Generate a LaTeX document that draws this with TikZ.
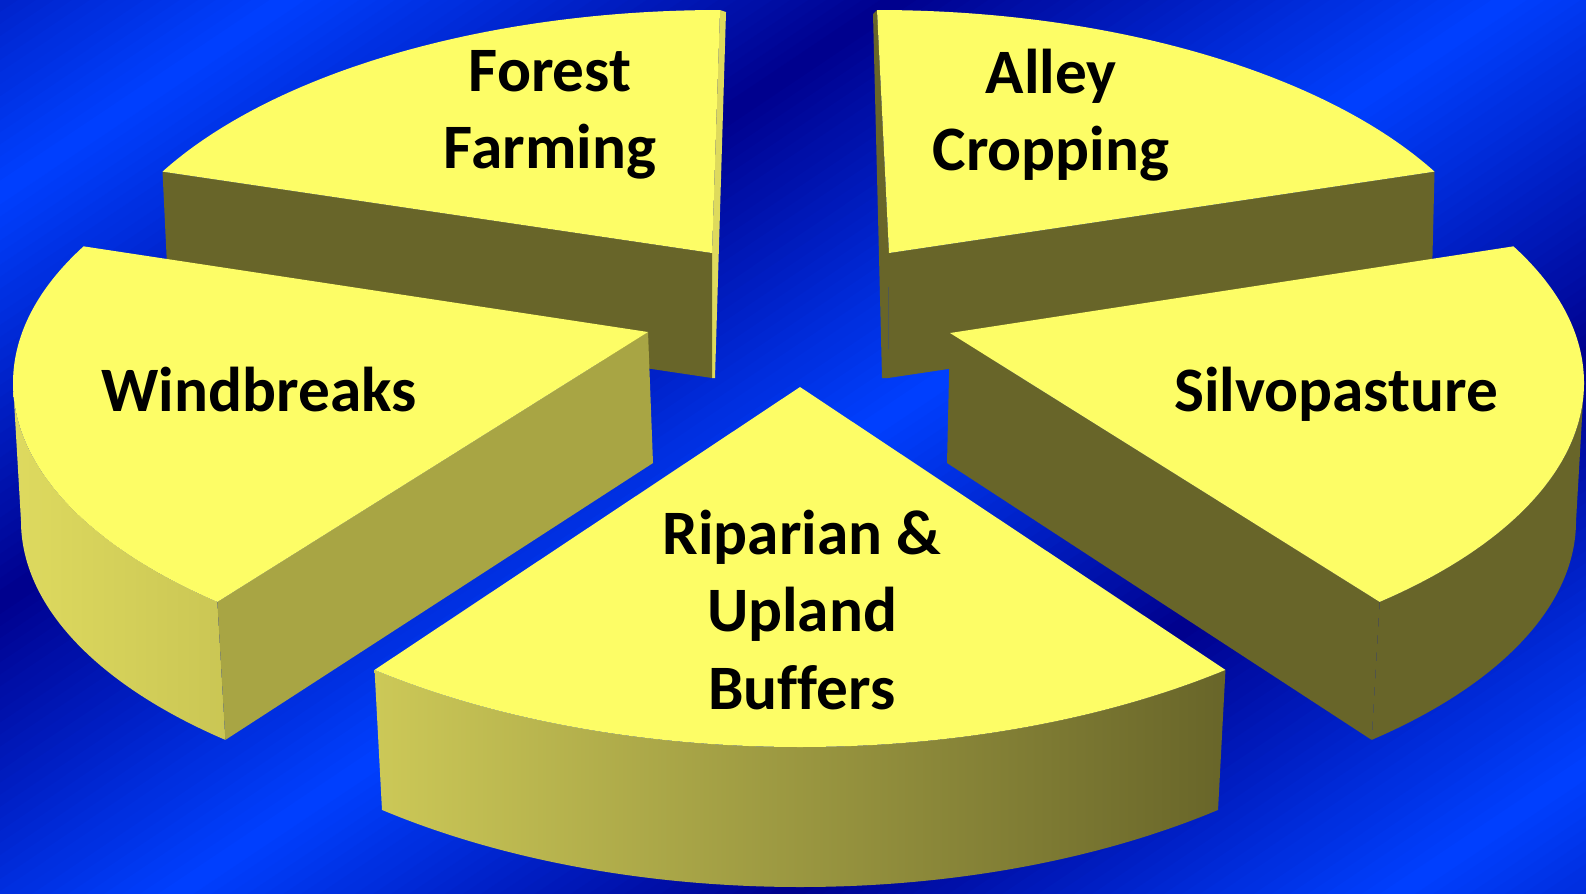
\documentclass[tikz,border=0pt]{standalone}
\usepackage{fontspec}
\setmainfont{Carlito}[Ligatures=NoCommon]
\usetikzlibrary{calc}

\definecolor{bgbright}{RGB}{0,64,255}
\definecolor{bgdark}{RGB}{0,0,140}
\definecolor{pietop}{RGB}{253,253,102}
\definecolor{pieolive}{RGB}{104,101,41}
\definecolor{piemid}{RGB}{168,165,68}
\definecolor{piesliver}{RGB}{222,218,92}
\definecolor{wallleft}{RGB}{222,218,95}
\definecolor{wallright}{RGB}{202,198,84}
\definecolor{wallmiddle}{RGB}{152,148,60}

\tikzstyle{topface} = [fill=pietop]
\tikzstyle{cutface} = [fill=pieolive]
\tikzstyle{slicetext} = [align=center, text=black, inner sep=0pt, font=\fontsize{18}{22}\selectfont\bfseries]

\begin{document}
\begin{tikzpicture}[x=0.01cm, y=-0.01cm]
        \useasboundingbox (0,0) rectangle (1586,893);
        % blue background, diagonal bands
        \begin{scope}
            \clip (0,0) rectangle (1586,893);
            \foreach \s in {-20,-10,...,1660} {
                \pgfmathtruncatemacro\pc{100*(1-abs(mod(\s-155+6800,680)-340)/340)}
                \fill[bgdark!\pc!bgbright] ({0.557*\s-0.831*600},{0.831*\s+0.557*600}) -- ({0.557*\s+0.831*1400},{0.831*\s-0.557*1400}) -- ({0.557*(\s+11)+0.831*1400},{0.831*(\s+11)-0.557*1400}) -- ({0.557*(\s+11)-0.831*600},{0.831*(\s+11)+0.557*600}) -- cycle;
            }
        \end{scope}

        % Forest Farming
        \coordinate (ffA) at (712,253);
        \coordinate (ffC) at (720,320);
        \fill[piesliver] (720,10) -- (726,12) -- (715,378) -- (712,378) -- (ffA) -- cycle;
        \fill[cutface] ($(ffC)+(208.6:635 and 310)$) -- (ffA) -- ++(0,125) -- ($(ffC)+(208.6:635 and 310)+(6,125)$) -- cycle;
        \fill[topface] (ffA) -- ($(ffC)+(208.6:635 and 310)$) arc[start angle=208.6, end angle=270, x radius=635, y radius=310] -- cycle;

        % Alley Cropping
        \coordinate (acA) at (889,253);
        \coordinate (acC) at (877,320);
        \fill[cutface] (877,10) -- (873,14) -- (882,378) -- (888,378) -- (acA) -- cycle;
        \fill[cutface] ($(acC)+(331.4:635 and 310)$) -- (acA) -- ++(-1,125) -- ($(acC)+(331.4:635 and 310)+(-3,125)$) -- cycle;
        \fill[topface] (acA) -- ($(acC)+(270:635 and 310)$) arc[start angle=270, end angle=331.4, x radius=635, y radius=310] -- cycle;

        % Windbreaks
        \coordinate (wbA) at (648,332);
        \coordinate (wbC) at (633,383);
        \shade[left color=wallleft, right color=wallright] ($(wbC)+(180:620 and 295)$) arc[start angle=180, end angle=132.1, x radius=620, y radius=295] -- ++(8,138) arc[start angle=132.1, end angle=180, x radius=620, y radius=295] -- cycle;
        \fill[piemid] ($(wbC)+(132.1:620 and 295)$) -- (wbA) -- ++(5,131) -- ($(wbC)+(132.1:620 and 295)+(8,138)$) -- cycle;
        \fill[topface] (wbA) -- ($(wbC)+(207.6:620 and 295)$) arc[start angle=207.6, end angle=132.1, x radius=620, y radius=295] -- cycle;

        % Silvopasture
        \coordinate (spA) at (950,333);
        \coordinate (spC) at (964,383);
        \fill[cutface] ($(spC)+(0:620 and 295)$) arc[start angle=0, end angle=47.9, x radius=620, y radius=295] -- ++(-8,138) arc[start angle=47.9, end angle=0, x radius=620, y radius=295] -- cycle;
        \fill[cutface] ($(spC)+(47.9:620 and 295)$) -- (spA) -- ++(-3,130) -- ($(spC)+(47.9:620 and 295)+(-8,138)$) -- cycle;
        \fill[topface] (spA) -- ($(spC)+(-27.6:620 and 295)$) arc[start angle=-27.6, end angle=47.9, x radius=620, y radius=295] -- cycle;

        % Riparian & Upland Buffers
        \coordinate (rbA) at (800,387);
        \shade[left color=wallleft!92!black, middle color=wallmiddle, right color=pieolive] ($(rbA)+(128.2:688 and 360)$) arc[start angle=128.2, end angle=51.8, x radius=688, y radius=360] -- ($(rbA)+(0,140)+(51.8:676 and 360)$) arc[start angle=51.8, end angle=128.2, x radius=676, y radius=360] -- cycle;
        \fill[topface] (rbA) -- ($(rbA)+(128.2:688 and 360)$) arc[start angle=128.2, end angle=51.8, x radius=688, y radius=360] -- cycle;

        % slice names
        \node[slicetext] (ff) at (550,115) {Forest\\Farming};
        \node[slicetext] (ac) at (1051,115) {Alley\\Cropping};
        \node[slicetext] (wb) at (259,390) {Windbreaks};
        \node[slicetext] (sp) at (1336,394) {Silvopasture};
        \node[slicetext] (rb) at (802,610) {Riparian \&\\Upland\\Buffers};
\end{tikzpicture}
\end{document}
